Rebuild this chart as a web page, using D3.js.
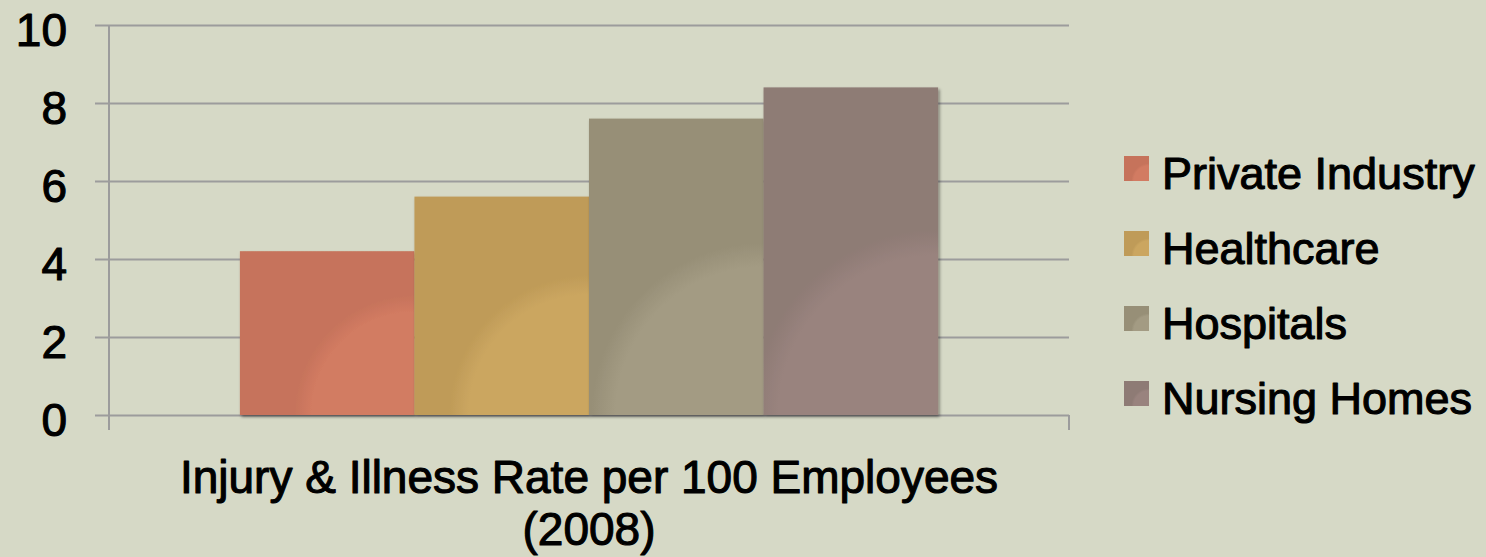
<!DOCTYPE html>
<html>
<head>
<meta charset="utf-8">
<script src="https://cdn.jsdelivr.net/npm/d3@7"></script>
<style>
  html, body { margin: 0; padding: 0; background: #d6d9c6; }
  svg { display: block; }
  text { font-family: "Liberation Sans", Arial, sans-serif; fill: #000; stroke: #000; stroke-width: 1.1px; stroke-linejoin: round; }
</style>
</head>
<body>
<div id="chart"></div>
<script>
// chart data
let seriesNames = ["Private Industry", "Healthcare", "Hospitals", "Nursing Homes"]
let seriesValues = [4.2, 5.6, 7.6, 8.4]
let categoryLines = ["Injury & Illness Rate per 100 Employees", "(2008)"]
let yTicks = [0, 2, 4, 6, 8, 10]
// outer colour, lighter inner glow colour
let outerColors = ["#c6735b", "#bf9b58", "#978f77", "#8e7b75"]
let innerColors = ["#d27b62", "#cba660", "#a39b83", "#99837e"]

let svg_width = 1486
let svg_height = 557
let plotLeft = 109
let plotRight = 1069
let plotTop = 25
let plotBottom = 415

let svg = d3.select("#chart")
  .append("svg")
  .attr("width", svg_width)
  .attr("height", svg_height)

svg.append("rect")
  .attr("width", svg_width)
  .attr("height", svg_height)
  .attr("fill", "#d6d9c6")

let defs = svg.append("defs")

let shadow = defs.append("filter")
  .attr("id", "barShadow")
  .attr("x", "-10%").attr("y", "-10%")
  .attr("width", "120%").attr("height", "120%")
shadow.append("feDropShadow")
  .attr("dx", 1.5).attr("dy", 2)
  .attr("stdDeviation", 1.5)
  .attr("flood-color", "#000")
  .attr("flood-opacity", 0.45)

// scales
let yScale = d3.scaleLinear()
  .domain([0, 10])
  .range([plotBottom, plotTop])

// one category, 150% gap width between the group and the plot edges
let xScale = d3.scaleBand()
  .domain(seriesNames)
  .range([plotLeft, plotRight])
  .paddingInner(0)
  .paddingOuter(0.75)

let colorOuter = d3.scaleOrdinal().domain(seriesNames).range(outerColors)
let colorInner = d3.scaleOrdinal().domain(seriesNames).range(innerColors)

let data = seriesNames.map((name, i) => ({name: name, value: seriesValues[i], idx: i}))

// gridlines via axis
let grid = svg.append("g")
  .attr("transform", `translate(${plotLeft},0)`)
  .call(d3.axisLeft(yScale)
    .tickValues(yTicks)
    .tickSize(-(plotRight - plotLeft))
    .tickFormat(""))
grid.select(".domain").remove()
grid.selectAll(".tick line")
  .attr("x1", -14)
  .attr("stroke", "#9c9c9c")
  .attr("stroke-width", 2)

// vertical axis line
svg.append("line")
  .attr("x1", plotLeft).attr("x2", plotLeft)
  .attr("y1", plotTop).attr("y2", plotBottom + 15)
  .attr("stroke", "#9c9c9c")
  .attr("stroke-width", 2)

// category tick marks at plot edges
svg.selectAll(".xtick")
  .data([plotLeft, plotRight])
  .enter()
  .append("line")
  .attr("class", "xtick")
  .attr("x1", d => d).attr("x2", d => d)
  .attr("y1", plotBottom).attr("y2", plotBottom + 15)
  .attr("stroke", "#9c9c9c")
  .attr("stroke-width", 2)

// y tick labels
svg.selectAll(".ylabel")
  .data(yTicks)
  .enter()
  .append("text")
  .attr("class", "ylabel")
  .attr("x", 67)
  .attr("y", d => yScale(d) + 20.5)
  .attr("text-anchor", "end")
  .style("font-size", "46px")
  .text(d => d)

// gradient glow from bottom-right corner of a box
function addGlow(id, x, y, w, h, inner, outer) {
  let r = Math.sqrt(w * w + h * h)
  let g = defs.append("radialGradient")
    .attr("id", id)
    .attr("gradientUnits", "userSpaceOnUse")
    .attr("cx", x + w).attr("cy", y + h)
    .attr("r", r)
  g.append("stop").attr("offset", 0).attr("stop-color", inner)
  g.append("stop").attr("offset", 0.43).attr("stop-color", inner)
  g.append("stop").attr("offset", 0.5).attr("stop-color", outer)
  g.append("stop").attr("offset", 1).attr("stop-color", outer)
}

data.forEach(d => {
  let x = xScale(d.name)
  let y = yScale(d.value)
  addGlow("glow" + d.idx, x, y, xScale.bandwidth(), yScale(0) - y,
          colorInner(d.name), colorOuter(d.name))
})

svg.selectAll(".bar")
  .data(data)
  .enter()
  .append("rect")
  .attr("class", "bar")
  .attr("x", d => xScale(d.name))
  .attr("y", d => yScale(d.value))
  .attr("width", xScale.bandwidth())
  .attr("height", d => yScale(0) - yScale(d.value))
  .attr("fill", d => `url(#glow${d.idx})`)
  .attr("filter", "url(#barShadow)")

// category label
svg.selectAll(".xlabel")
  .data(categoryLines)
  .enter()
  .append("text")
  .attr("class", "xlabel")
  .attr("x", (plotLeft + plotRight) / 2)
  .attr("y", (d, i) => 493 + i * 52)
  .attr("text-anchor", "middle")
  .style("font-size", "46px")
  .text(d => d)

// legend
let legendX = 1124
let legendY0 = 156
let legendStep = 75
let swatch = 25

data.forEach(d => {
  addGlow("lg" + d.idx, legendX, legendY0 + d.idx * legendStep, swatch, swatch,
          colorInner(d.name), colorOuter(d.name))
})

let legend = svg.selectAll(".legend")
  .data(data)
  .enter()
  .append("g")
  .attr("class", "legend")

legend.append("rect")
  .attr("x", legendX)
  .attr("y", d => legendY0 + d.idx * legendStep)
  .attr("width", swatch)
  .attr("height", swatch)
  .attr("fill", d => `url(#lg${d.idx})`)

legend.append("text")
  .attr("x", 1162)
  .attr("y", d => legendY0 + d.idx * legendStep + 33)
  .style("font-size", "45px")
  .text(d => d.name)
</script>
</body>
</html>
